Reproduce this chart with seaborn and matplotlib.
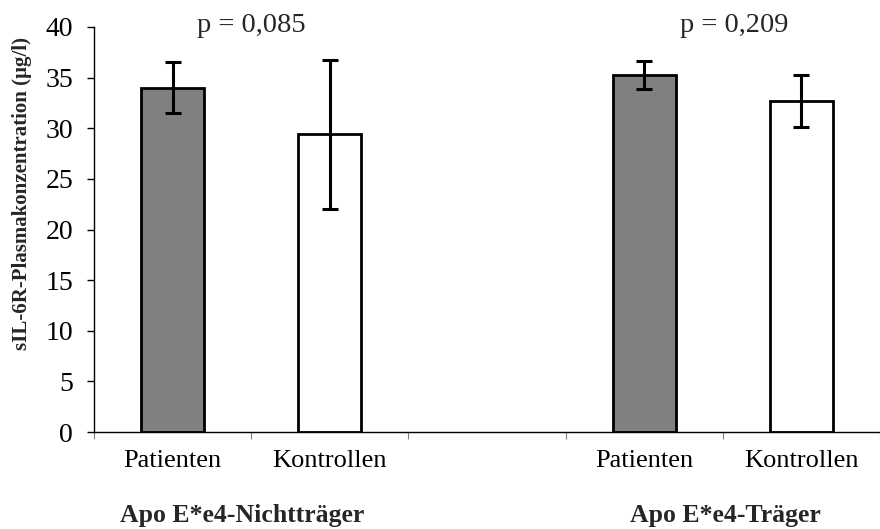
import numpy as np
import pandas as pd
import matplotlib
matplotlib.use("Agg")
import matplotlib.pyplot as plt
import seaborn as sns

# sIL-6R plasma concentration (µg/l), mean with error range per group
slots = ["Nicht-Patienten", "Nicht-Kontrollen", "gap", "Traeger-Patienten", "Traeger-Kontrollen"]
tick_labels = ["Patienten", "Kontrollen", "", "Patienten", "Kontrollen"]
bar_slots = ["Nicht-Patienten", "Nicht-Kontrollen", "Traeger-Patienten", "Traeger-Kontrollen"]
conditions = ["Patienten", "Kontrollen", "Patienten", "Kontrollen"]
means = [34.0, 29.4, 35.25, 32.7]
err_low = [31.5, 22.0, 33.9, 30.1]
err_high = [36.5, 36.7, 36.6, 35.3]
group_labels = ["Apo E*e4-Nichtträger", "Apo E*e4-Träger"]
p_labels = ["p = 0,085", "p = 0,209"]

df = pd.DataFrame({"slot": bar_slots, "cond": conditions, "value": means})

sns.set_theme(style="white")
plt.rcParams["font.family"] = ["Liberation Serif", "DejaVu Serif"]

fig = plt.figure(figsize=(8.8, 5.29), dpi=100)
ax = fig.add_axes([94 / 880, 1 - 432 / 529, (880 - 94) / 880, (432 - 27) / 529])

sns.barplot(
    data=df, x="slot", y="value", hue="cond", order=slots,
    palette={"Patienten": "#808080", "Kontrollen": "#ffffff"},
    width=0.4, edgecolor="black", linewidth=2.0, errorbar=None,
    legend=False, ax=ax, zorder=2,
)

# asymmetric error bars at the bar centres
centers = []
for patch in ax.patches:
    if patch.get_height() > 0:
        centers.append(patch.get_x() + patch.get_width() / 2)
centers = sorted(centers)
m = np.array(means)
yerr = np.vstack([m - np.array(err_low), np.array(err_high) - m])
ax.errorbar(centers, m, yerr=yerr, fmt="none", ecolor="black",
            elinewidth=2.2, capsize=6, capthick=2.2, zorder=3)

ax.set_xlim(-0.5, -0.5 + 786 / 159)
ax.set_ylim(0, 40)
ax.set_yticks(np.arange(0, 41, 5))
ax.tick_params(axis="y", labelsize=20, length=5, width=1, direction="out",
               pad=10, colors="black", left=True)
ax.set_xticks(range(len(slots)))
ax.set_xticklabels(tick_labels)
ax.tick_params(axis="x", which="major", labelsize=19, length=0, pad=13, colors="black")
ax.set_xticks(np.arange(-0.5, len(slots), 1.0), minor=True)
ax.tick_params(axis="x", which="minor", length=5, width=0.8, direction="out",
               color="#808080", bottom=True)
ax.set_xlabel("")
ax.set_ylabel("")

for side in ["top", "right"]:
    ax.spines[side].set_visible(False)
for side in ["left", "bottom"]:
    ax.spines[side].set_color("black")
    ax.spines[side].set_linewidth(1.0)

# p-values above each pair
ax.text(0.5, 39.5, p_labels[0], ha="center", va="baseline", fontsize=20.5)
ax.text(3.57, 39.5, p_labels[1], ha="center", va="baseline", fontsize=20.5)

# group captions below the category labels
fig.text(242 / 880, 1 - 522 / 529, group_labels[0], ha="center", va="baseline",
         fontsize=18.5, fontweight="bold")
fig.text(725 / 880, 1 - 522 / 529, group_labels[1], ha="center", va="baseline",
         fontsize=18.5, fontweight="bold")

fig.text(22 / 880, 1 - 194 / 529, "sIL-6R-Plasmakonzentration (µg/l)", rotation=90,
         ha="center", va="center", fontsize=15, fontweight="bold")

fig.savefig("out.png", dpi=100)
